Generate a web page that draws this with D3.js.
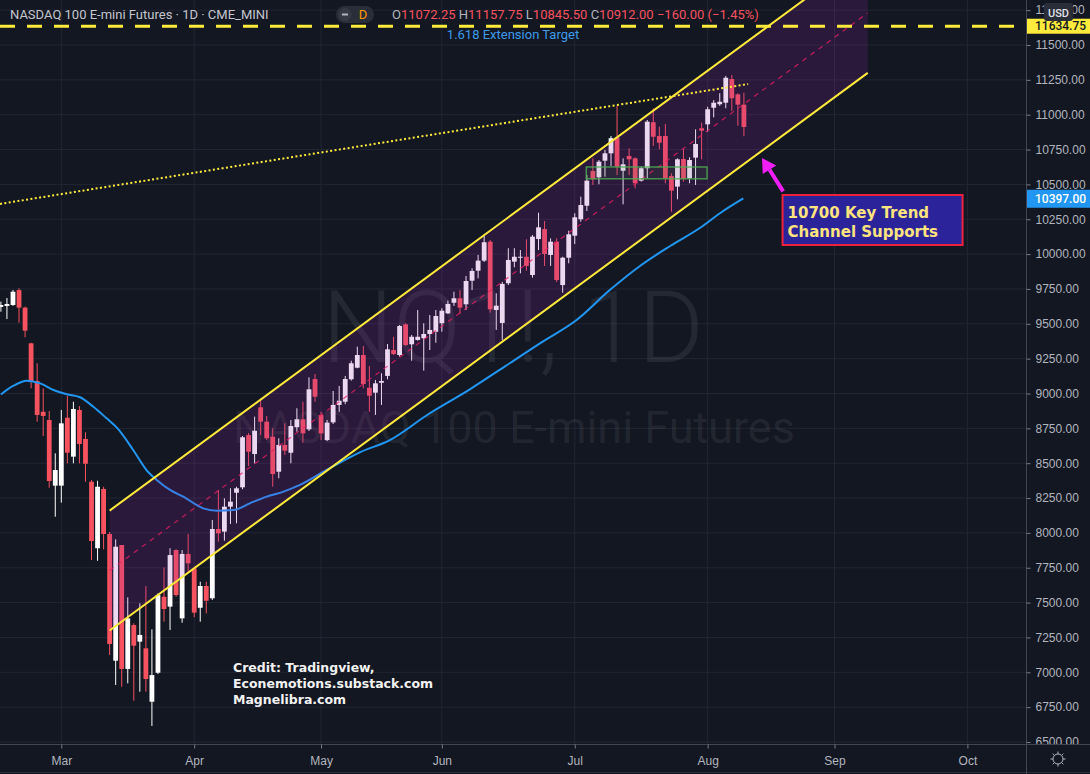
<!DOCTYPE html>
<html>
<head>
<meta charset="utf-8">
<title>NASDAQ 100 E-mini Futures</title>
<script src="https://d3js.org/d3.v7.min.js"></script>
<style>
  html, body { margin: 0; padding: 0; background: #131722; }
  svg { display: block; font-family: Roboto, "Noto Sans", sans-serif; }
  .note, .credit { font-family: "DejaVu Sans", Verdana, sans-serif; font-weight: bold; }
</style>
</head>
<body>
<div id="chart"></div>
<script>
// ---- data ----
// exchange holidays inside the traded range (future dates only skip weekends)
var holidays = ["2020-02-17", "2020-04-10", "2020-05-25", "2020-07-03"];
var monthLabels = ["Mar", "Apr", "May", "Jun", "Jul", "Aug", "Sep", "Oct"];
var monthNums = [2, 3, 4, 5, 6, 7, 8, 9];
var priceTicks = d3.range(6500, 11751, 250);

// daily candles from 2020-02-14 to 2020-08-11
var open = [9621,9628,9635,9742,9616,9360,9090,8869,8810,8339,
  8339,8826,8547,8882,8674,8367,7890,8315,7992,7083,7913,7024,7339,7220,7172,6789,6997,7542,7471,7877,7387,7849,
  7746,7463,7619,7531,8028,8009,8188,8288,8327,8702,8566,8901,8798,8690,8439,8631,8575,8758,8815,8743,9104,
  8846,8666,8793,8918,8941,9102,9185,9276,9041,9006,9077,9126,9312,9276,9496,9353,9384,9396,9427,9443,
  9504,9575,9651,9683,9640,9809,9881,9953,10089,9599,9506,9791,9946,9974,9981,9850,10108,10180,9994,10089,9778,9974,
  10132,10250,10347,10596,10551,10670,10723,10838,10598,10704,10687,10527,10616,10946,10847,10847,10560,10484,10682,10544,10692,10903,
  10931,11050,11075,11086,11256,11146,11072.25];
var high = [9659,9685,9742,9755,9623,9364,9217,9037,8874,8571,
  8882,8982,8941,8910,8722,8379,8374,8331,8006,7954,7913,7538,7351,7495,7619,7308,7567,7753,7890,7882,7877,7992,
  7758,7650,7650,8092,8308,8248,8320,8331,8695,8717,8834,8953,8839,8750,8679,8786,8810,8894,8941,9116,9140,
  8869,8810,9018,9054,9126,9235,9336,9341,9197,9097,9145,9355,9407,9491,9504,9420,9599,9504,9563,9599,
  9612,9666,9730,9742,9843,9898,9994,10130,10101,9719,9800,10042,10042,10029,10106,10137,10297,10237,10113,10113,9981,10168,
  10293,10412,10567,10687,10675,10747,10847,11065,10687,10759,10694,10627,10962,11046,10914,10933,10580,10687,10752,10694,10895,10943,
  11057,11105,11154,11278,11285,11154,11157.75];
var low = [9587,9534,9628,9508,9403,9037,8798,8695,8324,8116,
  8217,8499,8499,8499,8367,7805,7800,7882,7124,6909,6897,6921,6796,6861,6861,6615,6988,7363,7303,7542,7356,7722,
  7395,7363,7423,7519,7937,7944,8064,8069,8313,8480,8499,8702,8666,8331,8392,8559,8499,8726,8647,8731,8941,
  8666,8659,8781,8869,8923,9092,9181,9037,8869,8846,8918,9102,9276,9264,9341,9235,9379,9164,9312,9364,
  9443,9570,9628,9570,9599,9742,9826,9943,9580,9456,9384,9778,9905,9862,9881,9831,10029,9915,9915,9800,9723,9934,
  10072,10232,10309,10496,10501,10555,10632,10567,10357,10567,10472,10520,10544,10776,10752,10508,10304,10393,10520,10508,10496,10680,
  10878,10981,11063,11046,11027,10921,10845.5];
var close = [9635,9642,9730,9616,9451,9085,8846,8839,8372,8451,
  8786,8575,8889,8638,8496,7942,8331,7992,7203,7901,7024,7387,7191,7268,6952,6980,7554,7454,7841,7554,7849,7782,
  7428,7619,7513,8028,7997,8188,8224,8320,8686,8582,8733,8798,8679,8422,8631,8590,8767,8815,8714,9030,8977,
  8714,8791,8918,8948,9104,9217,9276,9068,8984,9073,9090,9317,9283,9484,9348,9407,9407,9427,9456,9556,
  9594,9642,9683,9616,9807,9879,9953,10085,9604,9630,9786,9958,9981,9981,9915,10125,10192,10001,10089,9814,9974,10142,
  10264,10352,10527,10537,10663,10723,10831,10627,10644,10680,10508,10616,10950,10842,10799,10544,10455,10680,10539,10675,10790,10885,
  11039,11086,11093,11265,11118,11072,10912];

// moving average (blue), sampled along the curve: [bar index, price]
var maIdx = [0, 2, 4.3, 6.5, 8.7, 10.9, 13.1, 15.3, 17.5, 19.2, 21.9, 24.1, 25.8, 28, 30.2, 33.5, 35.7, 38.5,
  41.2, 44, 46.8, 49.5, 54.5, 59.5, 64.4, 70.8, 77.7, 84.3, 89.3, 95.3, 100.8, 105.8, 110.8, 115.7, 119.1, 122.9];
var maVal = [8993, 9054, 9092, 9073, 9025, 8994, 8973, 8905, 8822, 8755, 8595, 8451, 8380, 8308, 8260, 8176, 8159, 8164,
  8212, 8260, 8296, 8344, 8466, 8580, 8666, 8853, 9032, 9219, 9362, 9527, 9742, 9915, 10058, 10187, 10295, 10399];
var maLast = 10397.00;

// drawings
var channelIdx = [18, 143.5];
var channelUpper = [8160, 12160];
var channelLower = [7300, 11300];
var dottedIdx = [-0.15, 123.7];
var dottedVal = [10360, 11220];
var extTarget = 11634.75;
var boxIdx = [96.9, 116.9];
var boxVal = [10540, 10625];
var arrowFrom = [129.5, 10450];
var arrowTo = [126, 10690];
var noteAt = [129.4, 10424];
var noteLines = ["10700 Key Trend", "Channel Supports"];
var creditLines = ["Credit: Tradingview,", "Econemotions.substack.com", "Magnelibra.com"];

// ---- setup ----
var W = 1090, H = 774, plotW = 1026, plotH = 744;
var fmtDay = d3.timeFormat("%Y-%m-%d");
var days = d3.timeDay.range(new Date(2020, 1, 14), new Date(2020, 10, 1))
  .filter(function(d){ return d.getDay() % 6 !== 0 && holidays.indexOf(fmtDay(d)) < 0 });

var x = d3.scaleLinear().domain([-0.15, 169.7]).range([0, plotW]);
var y = d3.scaleLinear().domain([6500, 11500]).range([742, 45]);

var monthIdx = monthNums.map(function(m){
  return days.findIndex(function(d){ return d.getMonth() === m });
});

var svg = d3.select('#chart').append('svg')
  .attr('width', W).attr('height', H);

svg.append('rect').attr('width', W).attr('height', H).attr('fill', '#131722');

svg.append('clipPath').attr('id', 'plot')
  .append('rect').attr('width', plotW).attr('height', plotH);

var plot = svg.append('g').attr('clip-path', 'url(#plot)');

// grid
plot.selectAll('.hgrid').data(priceTicks).enter().append('line')
  .attr('x1', 0).attr('x2', plotW)
  .attr('y1', function(d){ return y(d) }).attr('y2', function(d){ return y(d) })
  .attr('stroke', '#222633').attr('stroke-width', 1);
plot.selectAll('.vgrid').data(monthIdx).enter().append('line')
  .attr('x1', function(d){ return x(d) }).attr('x2', function(d){ return x(d) })
  .attr('y1', 0).attr('y2', plotH)
  .attr('stroke', '#222633').attr('stroke-width', 1);

// watermark
plot.append('text').attr('x', 513).attr('y', 362).attr('text-anchor', 'middle')
  .attr('font-size', 100).attr('font-weight', 300).attr('fill', 'rgba(255,255,255,0.075)')
  .text('NQ1!, 1D');
plot.append('text').attr('x', 514).attr('y', 443).attr('text-anchor', 'middle')
  .attr('font-size', 45).attr('fill', 'rgba(255,255,255,0.075)')
  .text('NASDAQ 100 E-mini Futures');

// candles
var bars = d3.range(close.length);
var col = function(i){ return close[i] >= open[i] ? '#ffffff' : '#f7525f' };
plot.selectAll('.wick').data(bars).enter().append('line')
  .attr('x1', function(i){ return x(i) }).attr('x2', function(i){ return x(i) })
  .attr('y1', function(i){ return y(high[i]) }).attr('y2', function(i){ return y(low[i]) })
  .attr('stroke', col).attr('stroke-width', 1);
plot.selectAll('.body').data(bars).enter().append('rect')
  .attr('x', function(i){ return x(i) - 2.4 }).attr('width', 4.8)
  .attr('y', function(i){ return y(Math.max(open[i], close[i])) })
  .attr('height', function(i){ return Math.max(1, Math.abs(y(open[i]) - y(close[i]))) })
  .attr('fill', col);

// moving average
var maLine = d3.line().curve(d3.curveMonotoneX)
  .x(function(d){ return x(d[0]) }).y(function(d){ return y(d[1]) });
plot.append('path').datum(maIdx.map(function(v, i){ return [v, maVal[i]] }))
  .attr('d', maLine).attr('fill', 'none').attr('stroke', '#2196f3').attr('stroke-width', 2);

// channel
var chPts = [[channelIdx[0], channelUpper[0]], [channelIdx[1], channelUpper[1]],
             [channelIdx[1], channelLower[1]], [channelIdx[0], channelLower[0]]];
plot.append('path')
  .attr('d', 'M' + chPts.map(function(p){ return x(p[0]) + ',' + y(p[1]) }).join('L') + 'Z')
  .attr('fill', '#9c27b0').attr('fill-opacity', 0.18);
var seg = function(a, b, stroke, w, dash, op){
  plot.append('line')
    .attr('x1', x(a[0])).attr('y1', y(a[1])).attr('x2', x(b[0])).attr('y2', y(b[1]))
    .attr('stroke', stroke).attr('stroke-width', w).attr('stroke-dasharray', dash)
    .attr('stroke-opacity', op || 1);
};
seg([channelIdx[0], (channelUpper[0] + channelLower[0]) / 2], [channelIdx[1], (channelUpper[1] + channelLower[1]) / 2],
  '#e91e63', 1.2, '5,5', 0.8);
seg([channelIdx[0], channelUpper[0]], [channelIdx[1], channelUpper[1]], '#ffeb3b', 2, null);
seg([channelIdx[0], channelLower[0]], [channelIdx[1], channelLower[1]], '#ffeb3b', 2, null);

// long dotted trend line
seg([dottedIdx[0], dottedVal[0]], [dottedIdx[1], dottedVal[1]], '#ffeb3b', 2, '2,2.4');

// consolidation box
plot.append('rect')
  .attr('x', x(boxIdx[0])).attr('width', x(boxIdx[1]) - x(boxIdx[0]))
  .attr('y', y(boxVal[1])).attr('height', y(boxVal[0]) - y(boxVal[1]))
  .attr('fill', 'rgba(76,175,80,0.08)').attr('stroke', '#4caf50').attr('stroke-width', 1.2);

// extension target
plot.append('line').attr('x1', 0).attr('x2', plotW)
  .attr('y1', y(extTarget)).attr('y2', y(extTarget))
  .attr('stroke', '#ffeb3b').attr('stroke-width', 3).attr('stroke-dasharray', '15,12');
plot.append('text').attr('x', 513).attr('y', 39).attr('text-anchor', 'middle')
  .attr('font-size', 13).attr('fill', '#3d9be9').text('1.618 Extension Target');

// arrow
var ax0 = x(arrowFrom[0]), ay0 = y(arrowFrom[1]), ax1 = x(arrowTo[0]), ay1 = y(arrowTo[1]);
var ang = Math.atan2(ay1 - ay0, ax1 - ax0);
var hl = 14, hw = 8;
var bx = ax1 - hl * Math.cos(ang), by = ay1 - hl * Math.sin(ang);
plot.append('line').attr('x1', ax0).attr('y1', ay0).attr('x2', bx).attr('y2', by)
  .attr('stroke', '#f01ef5').attr('stroke-width', 4);
plot.append('path')
  .attr('d', 'M' + ax1 + ',' + ay1 +
    'L' + (bx + hw * Math.sin(ang)) + ',' + (by - hw * Math.cos(ang)) +
    'L' + (bx - hw * Math.sin(ang)) + ',' + (by + hw * Math.cos(ang)) + 'Z')
  .attr('fill', '#f01ef5');

// note box
var nx = x(noteAt[0]), ny = y(noteAt[1]);
plot.append('rect').attr('x', nx).attr('y', ny).attr('width', 180).attr('height', 50)
  .attr('fill', '#2b2399').attr('stroke', '#f0213f').attr('stroke-width', 2);
plot.selectAll('.note').data(noteLines).enter().append('text')
  .attr('class', 'note')
  .attr('x', nx + 5).attr('y', function(d, i){ return ny + 23 + i * 19 })
  .attr('font-size', 15).attr('fill', '#fde47f').text(function(d){ return d });

// credit
plot.selectAll('.credit').data(creditLines).enter().append('text')
  .attr('class', 'credit')
  .attr('x', 233).attr('y', function(d, i){ return 672 + i * 16 })
  .attr('font-size', 12.5).attr('fill', '#f2f2f2').text(function(d){ return d });

// ---- axes ----
svg.append('line').attr('x1', 0).attr('x2', W).attr('y1', plotH + 0.5).attr('y2', plotH + 0.5)
  .attr('stroke', '#434651');
svg.append('line').attr('x1', 0).attr('x2', W).attr('y1', 772.5).attr('y2', 772.5)
  .attr('stroke', '#2a2e39');
svg.append('line').attr('x1', plotW + 0.5).attr('x2', plotW + 0.5).attr('y1', 0).attr('y2', H)
  .attr('stroke', '#434651');

svg.append('clipPath').attr('id', 'yax')
  .append('rect').attr('x', plotW).attr('width', W - plotW).attr('height', plotH);
var yAxis = svg.append('g').attr('clip-path', 'url(#yax)')
  .append('g').attr('transform', 'translate(' + (plotW + 0.5) + ',0)')
  .call(d3.axisRight(y).tickValues(priceTicks).tickFormat(d3.format('.2f')).tickSize(4).tickPadding(5));
yAxis.select('.domain').remove();
yAxis.selectAll('line').attr('stroke', '#787b86');
yAxis.selectAll('text').attr('fill', '#b2b5be').attr('font-size', 12)
  .attr('font-family', null);

var xAxis = svg.append('g').attr('transform', 'translate(0,' + (plotH + 0.5) + ')')
  .call(d3.axisBottom(x).tickValues(monthIdx)
    .tickFormat(function(d, i){ return monthLabels[i] }).tickSize(4).tickPadding(8));
xAxis.select('.domain').remove();
xAxis.selectAll('line').attr('stroke', '#787b86');
xAxis.selectAll('text').attr('fill', '#b2b5be').attr('font-size', 12)
  .attr('font-family', null);

// price labels on the axis
var axisLabel = function(v, bg, fg, h){
  svg.append('rect').attr('x', plotW + 1).attr('y', y(v) - h / 2).attr('width', W - plotW - 1).attr('height', h)
    .attr('fill', bg);
  svg.append('text').attr('x', plotW + 9).attr('y', y(v)).attr('dy', '0.35em')
    .attr('font-size', 12).attr('font-weight', 500).attr('fill', fg).text(d3.format('.2f')(v));
};
axisLabel(extTarget, '#ffeb3b', '#131722', 15);
axisLabel(maLast, '#2196f3', '#ffffff', 18);

// currency badge
svg.append('rect').attr('x', 1044).attr('y', 3).attr('width', 29).attr('height', 18).attr('rx', 3)
  .attr('fill', '#2a2e39');
svg.append('text').attr('x', 1058.5).attr('y', 16.5).attr('text-anchor', 'middle')
  .attr('font-size', 11).attr('font-weight', 500).attr('fill', '#e0e3eb').text('USD');

// settings icon
var gear = svg.append('g').attr('transform', 'translate(1058,759)');
gear.append('circle').attr('r', 5).attr('fill', 'none').attr('stroke', '#b2b5be').attr('stroke-width', 1);
d3.range(8).forEach(function(k){
  var a = k * Math.PI / 4;
  gear.append('line').attr('x1', 5 * Math.cos(a)).attr('y1', 5 * Math.sin(a))
    .attr('x2', 7.5 * Math.cos(a)).attr('y2', 7.5 * Math.sin(a))
    .attr('stroke', '#b2b5be').attr('stroke-width', 1);
});

// ---- header ----
svg.append('text').attr('x', 10).attr('y', 19).attr('font-size', 13).attr('fill', '#c3c6ce')
  .text('NASDAQ 100 E-mini Futures · 1D · CME_MINI');
svg.append('rect').attr('x', 336).attr('y', 6).attr('width', 38).attr('height', 17).attr('rx', 8.5)
  .attr('fill', '#2a2e39');
svg.append('circle').attr('cx', 345).attr('cy', 14.5).attr('r', 6.5).attr('fill', '#363a45');
svg.append('line').attr('x1', 342).attr('x2', 348).attr('y1', 14.5).attr('y2', 14.5)
  .attr('stroke', '#b2b5be').attr('stroke-width', 2);
svg.append('text').attr('x', 363).attr('y', 19).attr('text-anchor', 'middle')
  .attr('font-size', 13).attr('fill', '#ff9800').text('D');

var last = close.length - 1;
var chg = close[last] - close[last - 1];
var ohlc = svg.append('text').attr('x', 392).attr('y', 19).attr('font-size', 13);
[['O', open[last]], ['H', high[last]], ['L', low[last]], ['C', close[last]]].forEach(function(p, k){
  ohlc.append('tspan').attr('fill', '#b2b5be').text((k ? ' ' : '') + p[0]);
  ohlc.append('tspan').attr('fill', '#f7525f').text(d3.format('.2f')(p[1]));
});
ohlc.append('tspan').attr('fill', '#f7525f')
  .text(' ' + d3.format('.2f')(chg).replace('-', '−') + ' (' +
        d3.format('.2f')(chg / close[last - 1] * 100).replace('-', '−') + '%)');
</script>
</body>
</html>
